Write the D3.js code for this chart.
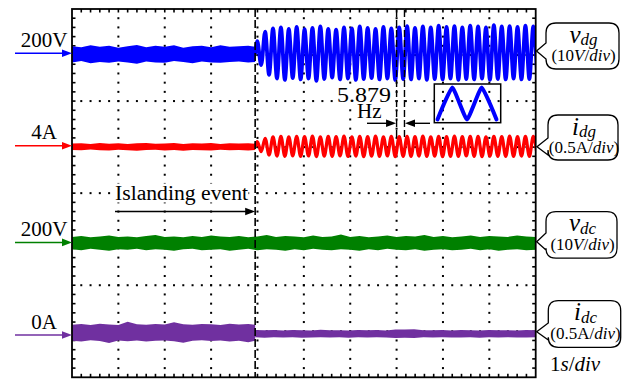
<!DOCTYPE html>
<html>
<head>
<meta charset="utf-8">
<script src="https://cdn.jsdelivr.net/npm/d3@7"></script>
<style>
  html, body { margin: 0; padding: 0; background: #fff; }
  svg { display: block; font-family: "Liberation Serif", "Times New Roman", serif; }
</style>
</head>
<body>
<svg id="chart" width="638" height="381"></svg>
<script>
// ---- time base (1 s/div, 10 divisions) ----
const timeDomain = [0, 10];          // s
const islandingTime = 3.95;          // s
const oscFreq = 5.879;               // Hz, oscillation after islanding

// ---- channels: v_dg, i_dg, v_dc, i_dc ----
const chNames = ["dg", "dg", "dc", "dc"];
const chSymbols = ["v", "i", "v", "i"];
const chUnits = ["V", "A", "V", "A"];
const chRefs = [200, 4, 200, 0];     // reference level shown by the left arrows
const chPerDiv = [10, 0.5, 10, 0.5]; // units per division

// v_dg before islanding: noise band edges (V), every 0.2 s
const vdgPreHi = [201.5, 201.3, 201.7, 201.4, 201.6, 201.2, 201.5, 201.8, 201.3, 201.6, 201.4,
                  201.7, 201.2, 201.5, 201.6, 201.3, 201.7, 201.4, 201.5, 201.6, 201.4];
const vdgPreLo = [198.0, 198.3, 197.8, 198.1, 197.9, 198.2, 198.0, 197.7, 198.2, 198.0, 197.9,
                  198.3, 198.1, 197.8, 198.2, 198.0, 197.9, 198.1, 198.2, 198.0, 198.1];
// v_dg after islanding: start level, then successive peaks / troughs (V)
const vdgWave = [199.8,
  202.6, 197.4, 204.7, 195.3, 205.4, 194.5, 205.6, 194.2, 205.3, 194.6,
  205.7, 194.3, 205.2, 194.5, 205.5, 194.0, 205.8, 194.4, 205.3, 194.7,
  205.1, 194.3, 205.6, 194.5, 205.4, 194.2, 205.8, 194.4, 205.5, 194.6,
  205.3, 194.3, 205.7, 194.5, 205.4, 194.2, 205.6, 194.4, 205.9, 194.3,
  205.5, 194.5, 205.8, 194.2, 205.6, 194.4, 206.0, 194.3, 205.7, 194.5,
  205.9, 194.2, 205.6, 194.4, 206.0, 194.3, 205.8, 194.5, 205.6, 194.2,
  206.1, 194.4, 205.8, 194.3, 205.9, 194.5, 205.7, 194.3, 206.0, 194.4,
  205.8, 194.6];

// i_dg before islanding (A)
const idgPreHi = [4.024, 4.028, 4.020, 4.030, 4.022, 4.026, 4.018, 4.027, 4.031, 4.021, 4.025,
                  4.029, 4.019, 4.026, 4.023, 4.030, 4.020, 4.027, 4.024, 4.028, 4.022];
const idgPreLo = [3.955, 3.950, 3.958, 3.952, 3.947, 3.956, 3.951, 3.945, 3.954, 3.957, 3.949,
                  3.953, 3.946, 3.955, 3.951, 3.948, 3.956, 3.950, 3.954, 3.947, 3.953];
// i_dg after islanding: start level, then peaks / troughs (A)
const idgWave = [3.99,
  4.045, 3.935, 4.080, 3.900, 4.095, 3.888, 4.100, 3.885, 4.096, 3.890,
  4.102, 3.884, 4.098, 3.889, 4.104, 3.883, 4.097, 3.887, 4.101, 3.885,
  4.099, 3.890, 4.103, 3.884, 4.096, 3.888, 4.100, 3.882, 4.098, 3.887,
  4.104, 3.885, 4.097, 3.889, 4.101, 3.883, 4.099, 3.886, 4.102, 3.884,
  4.098, 3.888, 4.103, 3.885, 4.097, 3.887, 4.101, 3.883, 4.099, 3.886,
  4.104, 3.884, 4.098, 3.889, 4.100, 3.885, 4.102, 3.883, 4.097, 3.887,
  4.101, 3.884, 4.099, 3.886, 4.103, 3.885, 4.098, 3.888, 4.100, 3.884,
  4.102, 3.886];

// v_dc over the whole record: band edges (V), every 0.2 s
const vdcHi = [201.2, 201.4, 201.1, 201.3, 201.5, 201.2, 201.3, 201.1, 201.4, 201.6,
               201.2, 201.3, 201.1, 201.4, 201.2, 201.5, 201.3, 201.2, 201.4, 201.1,
               201.3, 201.6, 201.2, 201.4, 201.3, 201.1, 201.5, 201.2, 201.3, 201.7,
               201.2, 201.4, 201.1, 201.3, 201.5, 201.2, 201.4, 201.3, 201.6, 201.2,
               201.4, 201.1, 201.3, 201.5, 201.2, 201.4, 201.3, 201.2, 201.5, 201.3, 201.2];
const vdcLo = [198.5, 198.3, 198.6, 198.4, 198.2, 198.5, 198.4, 198.6, 198.3, 198.5,
               198.4, 198.2, 198.5, 198.6, 198.3, 198.4, 198.5, 198.2, 198.4, 198.6,
               198.3, 198.5, 198.4, 198.2, 198.5, 198.3, 198.6, 198.4, 198.3, 198.5,
               198.4, 198.2, 198.5, 198.3, 198.6, 198.4, 198.3, 198.5, 198.2, 198.4,
               198.5, 198.3, 198.4, 198.6, 198.3, 198.5, 198.2, 198.4, 198.5, 198.3, 198.4];

// i_dc before islanding (A), every 0.2 s
const idcPreHi = [0.112, 0.118, 0.109, 0.121, 0.114, 0.108, 0.142, 0.116, 0.111, 0.119, 0.113,
                  0.138, 0.117, 0.110, 0.120, 0.115, 0.109, 0.122, 0.114, 0.118, 0.112];
const idcPreLo = [-0.062, -0.070, -0.058, -0.066, -0.088, -0.061, -0.068, -0.059, -0.072, -0.064, -0.060,
                  -0.069, -0.085, -0.063, -0.058, -0.067, -0.061, -0.070, -0.064, -0.080, -0.062];
// i_dc after islanding (A), 31 samples up to 10 s
const idcPostHi = [0.055, 0.050, 0.053, 0.048, 0.054, 0.051, 0.049, 0.056, 0.050, 0.052,
                   0.048, 0.054, 0.051, 0.053, 0.049, 0.060, 0.058, 0.062, 0.052, 0.050,
                   0.054, 0.049, 0.053, 0.051, 0.048, 0.055, 0.050, 0.052, 0.049, 0.053, 0.051];
const idcPostLo = [-0.026, -0.030, -0.024, -0.028, -0.025, -0.031, -0.027, -0.024, -0.029, -0.026,
                   -0.030, -0.025, -0.028, -0.024, -0.027, -0.032, -0.030, -0.033, -0.026, -0.028,
                   -0.025, -0.029, -0.027, -0.024, -0.030, -0.026, -0.028, -0.025, -0.029, -0.027, -0.026];

// zoomed detail of the oscillation (normalised peaks / troughs)
const insetWave = [-1, 1, -1, 1, -1];

// ---- layout ----
const plot = { left: 72, right: 535.7, top: 9, bottom: 377.3 };
const chColors = ["#0000ff", "#ff0000", "#008000", "#7030a0"];
const chOffsetDiv = [3.04, 1.03, -1.07, -3.08]; // screen offset of each reference, in divisions

const svg = d3.select("#chart");
const x = d3.scaleLinear().domain(timeDomain).range([plot.left, plot.right]);
const yDiv = d3.scaleLinear().domain([4, -4]).range([plot.top, plot.bottom]);
const yCh = chRefs.map((r, i) => d3.scaleLinear()
  .domain([r + (-4 - chOffsetDiv[i]) * chPerDiv[i], r + (4 - chOffsetDiv[i]) * chPerDiv[i]])
  .range([plot.bottom, plot.top]));

const minorX = (plot.right - plot.left) / 50;
const minorY = (plot.bottom - plot.top) / 40;

// ---- graticule: dotted division lines ----
const grid = svg.append("g").attr("fill", "#000");
const vDots = [];
d3.range(1, 10).forEach(k => d3.range(1, 40).forEach(j =>
  vDots.push([x(k), plot.top + j * minorY])));
const hDots = [];
d3.range(1, 8).forEach(j => d3.range(1, 50).forEach(i =>
  hDots.push([plot.left + i * minorX, yDiv(4 - j)])));
grid.selectAll("rect.dot").data(vDots.concat(hDots)).join("rect")
  .attr("class", "dot")
  .attr("x", d => d[0] - 1).attr("y", d => d[1] - 1)
  .attr("width", 2).attr("height", 2);

// border minor ticks
const ticks = svg.append("g").attr("stroke", "#000").attr("stroke-width", 1.6);
const tl = 3.5;
d3.range(1, 50).forEach(i => {
  const xi = plot.left + i * minorX;
  ticks.append("line").attr("x1", xi).attr("x2", xi).attr("y1", plot.top).attr("y2", plot.top + tl);
  ticks.append("line").attr("x1", xi).attr("x2", xi).attr("y1", plot.bottom).attr("y2", plot.bottom - tl);
});
d3.range(1, 40).forEach(j => {
  const yj = plot.top + j * minorY;
  ticks.append("line").attr("x1", plot.left).attr("x2", plot.left + tl).attr("y1", yj).attr("y2", yj);
  ticks.append("line").attr("x1", plot.right).attr("x2", plot.right - tl).attr("y1", yj).attr("y2", yj);
});

// ---- traces ----
svg.append("clipPath").attr("id", "plotClip").append("rect")
  .attr("x", plot.left).attr("y", plot.top)
  .attr("width", plot.right - plot.left).attr("height", plot.bottom - plot.top);
const traces = svg.append("g").attr("clip-path", "url(#plotClip)");

const step = 0.2;
const preTimes = n => d3.range(n).map(i => Math.min(i * step, islandingTime));
const postTimes = n => d3.range(n).map(i => islandingTime + i * (timeDomain[1] - islandingTime) / (n - 1));
const fullTimes = n => d3.range(n).map(i => i * step);

function band(ch, times, hi, lo) {
  const pts = times.map((t, i) => ({ t, hi: hi[i], lo: lo[i] }));
  traces.append("path")
    .attr("d", d3.area().x(d => x(d.t)).y0(d => yCh[ch](d.lo)).y1(d => yCh[ch](d.hi))(pts))
    .attr("fill", chColors[ch]);
}

const halfPeriod = 1 / (2 * oscFreq);
function wave(ch, values, width) {
  const pts = values.map((v, k) => ({
    t: k === 0 ? islandingTime : islandingTime + 0.045 + (k - 1) * halfPeriod, v }));
  traces.append("path")
    .attr("d", d3.line().x(d => x(d.t)).y(d => yCh[ch](d.v)).curve(d3.curveMonotoneX)(pts))
    .attr("fill", "none").attr("stroke", chColors[ch])
    .attr("stroke-width", width).attr("stroke-linejoin", "round");
}

band(0, preTimes(vdgPreHi.length), vdgPreHi, vdgPreLo);
wave(0, vdgWave, 3.8);
band(1, preTimes(idgPreHi.length), idgPreHi, idgPreLo);
wave(1, idgWave, 3.3);
band(2, fullTimes(vdcHi.length), vdcHi, vdcLo);
band(3, preTimes(idcPreHi.length), idcPreHi, idcPreLo);
band(3, postTimes(idcPostHi.length), idcPostHi, idcPostLo);

// frame
svg.append("rect")
  .attr("x", plot.left).attr("y", plot.top)
  .attr("width", plot.right - plot.left).attr("height", plot.bottom - plot.top)
  .attr("fill", "none").attr("stroke", "#000").attr("stroke-width", 1.8);

// ---- helpers ----
function arrowHead(g, tipX, tipY, dir, color, len = 10, half = 3.8) {
  g.append("path")
    .attr("d", `M${tipX},${tipY} L${tipX - dir * len},${tipY - half} L${tipX - dir * len},${tipY + half} Z`)
    .attr("fill", color);
}
// text on a white patch so the graticule dots do not run through it
function labelOnWhite(g, sel) {
  const b = sel.node().getBBox();
  g.insert("rect", () => sel.node())
    .attr("x", b.x).attr("y", b.y + 2).attr("width", b.width).attr("height", b.height - 4)
    .attr("fill", "#fff");
}

// ---- islanding event marker ----
const ann = svg.append("g");
ann.append("line")
  .attr("x1", x(islandingTime)).attr("x2", x(islandingTime))
  .attr("y1", plot.top).attr("y2", plot.bottom)
  .attr("stroke", "#000").attr("stroke-width", 1.6).attr("stroke-dasharray", "8,3");
const islText = ann.append("text").attr("x", 115).attr("y", 199.5)
  .attr("font-size", 20).attr("textLength", 133).attr("lengthAdjust", "spacingAndGlyphs")
  .text("Islanding event");
labelOnWhite(ann, islText);
ann.append("line").attr("x1", 115).attr("x2", x(islandingTime) - 8)
  .attr("y1", 211.5).attr("y2", 211.5).attr("stroke", "#000").attr("stroke-width", 1.4);
arrowHead(ann, x(islandingTime), 211.5, 1, "#000", 10, 3.8);

// ---- period markers (one oscillation period) ----
const markT0 = 7.0;
const markT1 = markT0 + 1 / oscFreq;
[markT0, markT1].forEach(t => ann.append("line")
  .attr("x1", x(t)).attr("x2", x(t)).attr("y1", 10).attr("y2", 138)
  .attr("stroke", "#000").attr("stroke-width", 1.4).attr("stroke-dasharray", "7,3"));
const freqText = ann.append("text").attr("x", 337).attr("y", 101.5)
  .attr("font-size", 21).attr("textLength", 54).attr("lengthAdjust", "spacingAndGlyphs")
  .text(oscFreq.toFixed(3));
labelOnWhite(ann, freqText);
ann.append("text").attr("x", 357).attr("y", 118).attr("font-size", 21).text("Hz");
ann.append("line").attr("x1", 367).attr("x2", x(markT0) - 8)
  .attr("y1", 123.3).attr("y2", 123.3).attr("stroke", "#000").attr("stroke-width", 1.4);
arrowHead(ann, x(markT0) - 0.5, 123.3, 1, "#000", 10, 3.8);
ann.append("line").attr("x1", 430).attr("x2", x(markT1) + 8)
  .attr("y1", 123.3).attr("y2", 123.3).attr("stroke", "#000").attr("stroke-width", 1.4);
arrowHead(ann, x(markT1) + 0.5, 123.3, -1, "#000", 10, 3.8);

// ---- zoomed inset ----
const inset = { x0: 434.3, y0: 84, x1: 500.7, y1: 122.7 };
const ix = d3.scaleLinear().domain([0, insetWave.length - 1]).range([437.5, 496.5]);
const iy = d3.scaleLinear().domain([-1, 1]).range([119.5, 87.5]);
ann.append("rect").attr("x", inset.x0).attr("y", inset.y0)
  .attr("width", inset.x1 - inset.x0).attr("height", inset.y1 - inset.y0)
  .attr("fill", "none").attr("stroke", "#000").attr("stroke-width", 1.5);
ann.append("path")
  .attr("d", d3.line().x((d, i) => ix(i)).y(d => iy(d)).curve(d3.curveCardinal.tension(0.6))(insetWave))
  .attr("fill", "none").attr("stroke", chColors[0]).attr("stroke-width", 4)
  .attr("stroke-linejoin", "round").attr("stroke-linecap", "round");

// ---- reference arrows and levels on the left ----
const fmt = d3.format("~g");
chRefs.forEach((r, i) => {
  const y = yCh[i](r);
  ann.append("line").attr("x1", 15).attr("x2", plot.left - 8)
    .attr("y1", y).attr("y2", y).attr("stroke", chColors[i]).attr("stroke-width", 1.5);
  arrowHead(ann, plot.left, y, 1, chColors[i], 10, 3.8);
  ann.append("text").attr("x", 44).attr("y", y - 6.3)
    .attr("text-anchor", "middle").attr("font-size", 21)
    .text(fmt(r) + chUnits[i]);
});

// ---- channel callouts on the right ----
const callouts = [
  { x0: 546, y0: 23, w: 73, h: 46, tip: [536.5, 51], wedge: [43, 59] },
  { x0: 548, y0: 115, w: 70, h: 45, tip: [537, 146.7], wedge: [138, 155] },
  { x0: 546, y0: 211.7, w: 71, h: 46.5, tip: [536.7, 241.7], wedge: [233, 250] },
  { x0: 548.3, y0: 300.7, w: 72.4, h: 46.6, tip: [536.7, 331.7], wedge: [323, 340] }
];
callouts.forEach((c, i) => {
  const r = 10, x0 = c.x0, y0 = c.y0, x1 = c.x0 + c.w, y1 = c.y0 + c.h;
  const d = `M${x0 + r},${y0} H${x1 - r} Q${x1},${y0} ${x1},${y0 + r} V${y1 - r} Q${x1},${y1} ${x1 - r},${y1}` +
            ` H${x0 + r} Q${x0},${y1} ${x0},${y1 - r} V${c.wedge[1]} L${c.tip[0]},${c.tip[1]} L${x0},${c.wedge[0]}` +
            ` V${y0 + r} Q${x0},${y0} ${x0 + r},${y0} Z`;
  ann.append("path").attr("d", d).attr("fill", "#fff").attr("stroke", "#000").attr("stroke-width", 1.3);
  const cx = x0 + c.w / 2 + 1;
  const t1 = ann.append("text").attr("x", cx).attr("y", y0 + 19.5).attr("text-anchor", "middle");
  t1.append("tspan").attr("font-style", "italic").attr("font-size", 25).text(chSymbols[i]);
  t1.append("tspan").attr("font-style", "italic").attr("font-size", 17).attr("dy", 2.5).text(chNames[i]);
  const t2 = ann.append("text").attr("x", cx).attr("y", y0 + 38).attr("text-anchor", "middle")
    .attr("font-size", 17);
  t2.append("tspan").text("(" + fmt(chPerDiv[i]));
  t2.append("tspan").attr("font-style", chUnits[i] === "V" ? "italic" : "normal").text(chUnits[i]);
  t2.append("tspan").text("/");
  t2.append("tspan").attr("font-style", "italic").text("div");
  t2.append("tspan").text(")");
});

// time base label
const tb = ann.append("text").attr("x", 550).attr("y", 371).attr("font-size", 21);
tb.append("tspan").text("1");
tb.append("tspan").attr("font-style", "italic").text("s");
tb.append("tspan").text("/");
tb.append("tspan").attr("font-style", "italic").text("div");
</script>
</body>
</html>
